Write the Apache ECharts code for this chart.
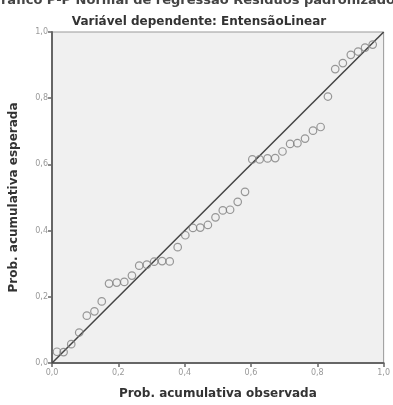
<!DOCTYPE html>
<html>
<head>
<meta charset="utf-8">
<script src="https://cdn.jsdelivr.net/npm/echarts@6/dist/echarts.min.js"></script>
<style>
  html, body { margin: 0; padding: 0; background: #fff; }
  #chart { width: 393px; height: 405px; }
</style>
</head>
<body>
<div id="chart"></div>
<script>
// prob. acumulativa observada
var observada = [
  0.015, 0.035, 0.058, 0.082, 0.105, 0.128, 0.150, 0.172, 0.195, 0.218,
  0.241, 0.263, 0.286, 0.308, 0.332, 0.355, 0.379, 0.402, 0.425, 0.447,
  0.470, 0.493, 0.515, 0.537, 0.560, 0.582, 0.604, 0.626, 0.650, 0.673,
  0.695, 0.718, 0.740, 0.763, 0.787, 0.810, 0.832, 0.854, 0.877, 0.901,
  0.923, 0.944, 0.967
]
// prob. acumulativa esperada
var esperada = [
  0.034, 0.033, 0.057, 0.092, 0.143, 0.156, 0.186, 0.240, 0.243, 0.245,
  0.264, 0.294, 0.297, 0.306, 0.308, 0.307, 0.350, 0.386, 0.408, 0.409,
  0.417, 0.440, 0.461, 0.463, 0.487, 0.517, 0.615, 0.615, 0.618, 0.619,
  0.639, 0.662, 0.664, 0.678, 0.702, 0.713, 0.805, 0.888, 0.906, 0.931,
  0.941, 0.953, 0.962
]
var linhaRef = [[0, 0], [1, 1]]
var ticks = ['0,0', '0,2', '0,4', '0,6', '0,8', '1,0']

var pontos = observada.map(function (x, i) { return [x, esperada[i]] })

var chart = echarts.init(document.getElementById('chart'))

var axisComum = {
  type: 'value',
  min: 0,
  max: 1,
  interval: 0.2,
  nameLocation: 'middle',
  nameTextStyle: { fontFamily: 'DejaVu Sans', fontWeight: 'bold', fontSize: 12, color: '#333' },
  axisLine: { show: true, lineStyle: { color: '#666', width: 2 } },
  axisTick: { show: true, inside: false, length: 4, lineStyle: { color: '#666', width: 1.5 } },
  axisLabel: {
    fontFamily: 'DejaVu Sans', fontSize: 8, color: '#999',
    formatter: function (v) { return ticks[Math.round(v * 5)] }
  },
  splitLine: { show: false }
}

var option = {
  animation: false,
  backgroundColor: '#fff',
  title: [
    {
      // título cortado no topo da imagem original
      text: 'Gráfico P-P Normal de regressão Resíduos padronizados',
      left: 'center', top: -11,
      textStyle: { fontFamily: 'DejaVu Sans', fontWeight: 'bold', fontSize: 13, color: '#444' }
    },
    {
      text: 'Variável dependente: EntensãoLinear',
      left: 194, top: 11, textAlign: 'center',
      textStyle: { fontFamily: 'DejaVu Sans', fontWeight: 'bold', fontSize: 12, color: '#333' }
    }
  ],
  grid: {
    left: 52, right: 8, top: 32, bottom: 40,
    show: true, backgroundColor: '#f0f0f0', borderColor: '#999', borderWidth: 1
  },
  xAxis: Object.assign({}, axisComum, {
    name: 'Prob. acumulativa observada',
    nameGap: 25,
    axisLabel: Object.assign({}, axisComum.axisLabel, { margin: 6 })
  }),
  yAxis: Object.assign({}, axisComum, {
    name: 'Prob. acumulativa esperada',
    nameGap: 32,
    axisLabel: Object.assign({}, axisComum.axisLabel, { margin: 4 })
  }),
  series: [
    {
      type: 'line',
      data: linhaRef,
      symbol: 'none',
      lineStyle: { color: '#444', width: 1.5 },
      z: 2
    },
    {
      type: 'scatter',
      data: pontos,
      symbol: 'circle',
      symbolSize: 7.5,
      itemStyle: { color: 'transparent', borderColor: '#808080', borderWidth: 1.2 },
      z: 3
    }
  ]
}

chart.setOption(option)
window.addEventListener('resize', function () {
  chart.resize()
})
</script>
</body>
</html>
